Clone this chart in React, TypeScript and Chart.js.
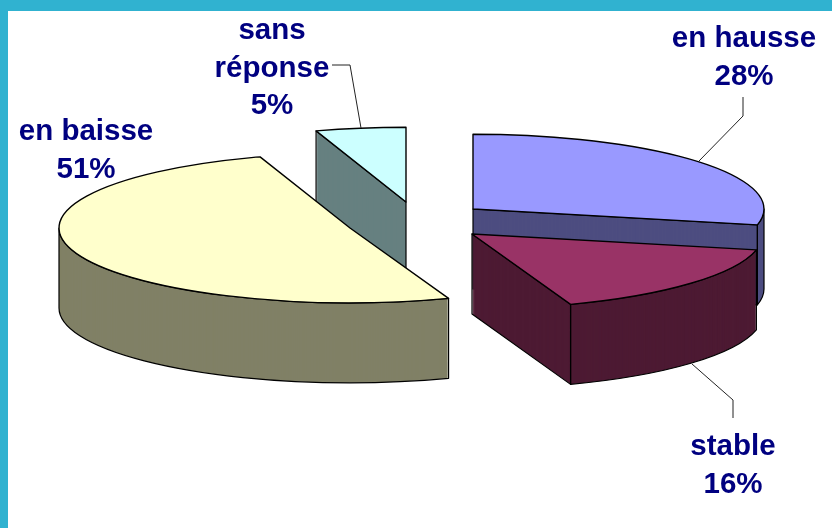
import React, { useEffect, useRef } from "react";
import { Chart, registerables } from "chart.js";

Chart.register(...registerables);

// Values: shown on the chart rounded to whole percent
const categories = ["en hausse", "stable", "en baisse", "sans réponse"];
const shares = [28.4, 16.1, 50.5, 5];
const topColors = ["#9999ff", "#993366", "#ffffcc", "#ccffff"];
const wallColors = ["#4d4d80", "#4d1a33", "#808066", "#668080"];

// Styling / projection of the 3D look
const BAND = "#30b2d0";
const NAVY = "#000080";
const PIE_CENTER = { x: 408, y: 222 };
const RADIUS = 291;
const SQUASH = 0.257;
const DEPTH = 80;
const explodeX = [65, 64, -58, -2];
const explodeY = [-13, 12, 6, -20];
const paintOrder = [3, 2, 0, 1];
const labelCenterX = [744, 733, 86, 272];
const labelBaseY = [47, 455, 140, 39];
const labelLines = [
  ["en hausse"],
  ["stable"],
  ["en baisse"],
  ["sans", "réponse"],
];
const LINE_H = 37.5;
const leaders = [
  [[743, 97], [743, 116], [699, 161]],
  [[692, 364], [733, 400], [733, 418]],
  [],
  [[332, 65], [350, 65], [361, 128]],
];

const pie3d = {
  id: "pie3d",
  beforeDatasetsDraw(chart: any) {
    const ctx: CanvasRenderingContext2D = chart.ctx;
    const arcs = chart.getDatasetMeta(0).data;
    const R = RADIUS;
    const ry = R * SQUASH;

    const drawFace = (arc: any, tx: number, ty: number, color: string) => {
      const orig = arc.options;
      arc.options = { ...orig, backgroundColor: color };
      ctx.save();
      ctx.translate(tx, ty);
      ctx.scale(1, SQUASH);
      ctx.translate(-arc.x, -arc.y);
      arc.draw(ctx);
      ctx.restore();
      arc.options = orig;
    };

    ctx.save();
    ctx.lineJoin = "round";
    for (const i of paintOrder) {
      const arc = arcs[i];
      const tx = PIE_CENTER.x + explodeX[i];
      const ty = PIE_CENTER.y + explodeY[i];
      const a0: number = arc.startAngle;
      const a1: number = arc.endAngle;

      for (let d = DEPTH; d > 0; d--) drawFace(arc, tx, ty + d, wallColors[i]);

      ctx.strokeStyle = "#000";
      ctx.lineWidth = 1.2;
      const radialWall = (a: number) => {
        const px = tx + R * Math.cos(a);
        const py = ty + ry * Math.sin(a);
        ctx.beginPath();
        ctx.moveTo(tx, ty);
        ctx.lineTo(px, py);
        ctx.lineTo(px, py + DEPTH);
        ctx.lineTo(tx, ty + DEPTH);
        ctx.closePath();
        ctx.stroke();
      };
      if (Math.cos(a0) < -1e-6) radialWall(a0);
      if (Math.cos(a1) > 1e-6) radialWall(a1);

      const lo = Math.max(a0, 0);
      const hi = Math.min(a1, Math.PI);
      if (lo < hi) {
        ctx.beginPath();
        ctx.ellipse(tx, ty, R, ry, 0, lo, hi);
        ctx.ellipse(tx, ty + DEPTH, R, ry, 0, hi, lo, true);
        ctx.closePath();
        ctx.stroke();
      }

      drawFace(arc, tx, ty, topColors[i]);
      ctx.beginPath();
      ctx.moveTo(tx, ty);
      ctx.ellipse(tx, ty, R, ry, 0, a0, a1);
      ctx.closePath();
      ctx.lineWidth = 1.4;
      ctx.stroke();
    }

    // Leader lines
    ctx.strokeStyle = "#222";
    ctx.lineWidth = 1;
    leaders.forEach((pts) => {
      if (!pts.length) return;
      ctx.beginPath();
      pts.forEach(([x, y], k) => (k ? ctx.lineTo(x, y) : ctx.moveTo(x, y)));
      ctx.stroke();
    });

    // Data labels
    ctx.fillStyle = NAVY;
    ctx.font = "bold 29.5px 'Liberation Sans', Arial, sans-serif";
    ctx.textAlign = "center";
    ctx.textBaseline = "alphabetic";
    const values: number[] = chart.data.datasets[0].data;
    values.forEach((v, i) => {
      const lines = [...labelLines[i], `${Math.round(v)}%`];
      lines.forEach((t, k) => ctx.fillText(t, labelCenterX[i], labelBaseY[i] + k * LINE_H));
    });
    ctx.restore();
    return false;
  },
};

export default function App() {
  const ref = useRef<HTMLCanvasElement>(null);
  useEffect(() => {
    const chart = new Chart(ref.current as HTMLCanvasElement, {
      type: "pie",
      data: {
        labels: categories,
        datasets: [
          {
            data: shares,
            backgroundColor: topColors,
            borderWidth: 0,
          },
        ],
      },
      options: {
        responsive: false,
        animation: false,
        radius: RADIUS,
        plugins: { legend: { display: false }, tooltip: { enabled: false } },
      } as any,
      plugins: [pie3d as any],
    });
    return () => chart.destroy();
  }, []);
  return (
    <div style={{ position: "fixed", left: 0, top: 0, width: 832, height: 528, background: "#fff", overflow: "hidden" }}>
      <div style={{ position: "absolute", left: 0, top: 0, width: 832, height: 11, background: BAND }} />
      <div style={{ position: "absolute", left: 0, top: 0, width: 8, height: 528, background: BAND }} />
      <canvas ref={ref} width={832} height={528} style={{ position: "absolute", left: 0, top: 0 }} />
    </div>
  );
}
